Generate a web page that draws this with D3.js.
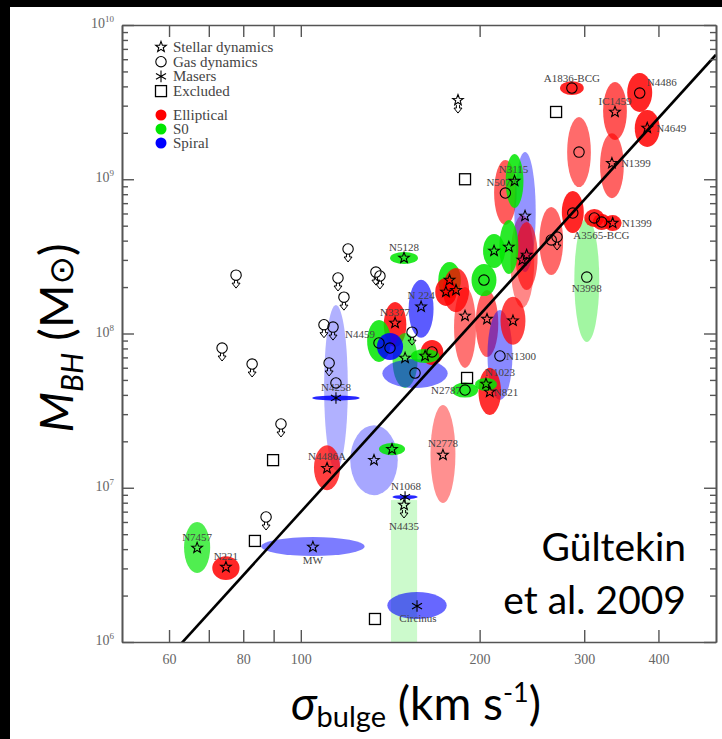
<!DOCTYPE html>
<html>
<head>
<meta charset="utf-8">
<script src="https://cdn.jsdelivr.net/npm/d3@7"></script>
<style>
  body { margin: 0; background: #000; }
  svg { display: block; }
</style>
</head>
<body>
<svg id="chart" width="722" height="739"></svg>
<script>
// ---- data -----------------------------------------------------------------
// Axis domains (velocity dispersion in km/s, black-hole mass in solar masses)
const sigmaDomain = [50, 500];
const massDomain = [1e6, 1e10];

// Fitted M-sigma relation: log M = a + b log(sigma / 200 km/s)
const fitA = 8.12;
const fitB = 4.24;

// Measured black holes:
// name, morphology (E / S0 / S), method (star / gas / maser),
// sigma, M_BH, sigma error (dex), mass error below (dex, null = upper limit), mass error above (dex)
const galaxies = [
  ["", "S", "gas", 114.6, 4.78e7, 0.020, 0.564, 0.506],
  ["", "E", "gas", 294, 1.50e9, 0.020, 0.227, 0.227],
  ["", "E", "gas", 264, 4.04e8, 0.020, 0.227, 0.214],
  ["", "E", "star", 236, 3.00e8, 0.020, 0.311, 0.292],
  ["N1399", "E", "star", 334, 1.27e9, 0.020, 0.227, 0.194],
  ["IC1459", "E", "star", 338, 2.73e9, 0.020, 0.182, 0.194],
  ["N2778", "E", "star", 173.5, 1.63e7, 0.021, 0.311, 0.324],
  ["", "E", "star", 189, 1.30e8, 0.0185, 0.337, 0.188],
  ["", "E", "star", 205.8, 1.24e8, 0.019, 0.246, 0.188],
  ["N5077", "E", "gas", 221, 8.14e8, 0.019, 0.207, 0.214],
  ["N3998", "S0", "gas", 303, 2.32e8, 0.021, 0.421, 0.383],
  ["N1300", "S", "gas", 216.4, 7.15e7, 0.021, 0.285, 0.298],
  ["", "S", "star", 238.5, 5.78e8, 0.018, 0.363, 0.415],
  ["", "S", "star", 132.8, 1.51e7, 0.040, 0.227, 0.227],
  ["N4435", "S0", "star", 149.2, 7.73e6, 0.022, null, 0.032],
  ["", "E", "gas", 287, 6.04e8, 0.0185, 0.130, 0.143],
  ["", "E", "star", 227.6, 1.21e8, 0.021, 0.156, 0.156],
  ["", "E", "star", 240, 3.23e8, 0.0185, 0.227, 0.214],
  ["N3115", "S0", "star", 229, 9.74e8, 0.015, 0.175, 0.175],
  ["", "S0", "star", 224, 3.64e8, 0.016, 0.175, 0.175],
  ["", "S0", "star", 211.5, 3.43e8, 0.0185, 0.110, 0.110],
  ["", "S0", "gas", 203.4, 2.22e8, 0.021, 0.104, 0.104],
  ["", "S0", "star", 178, 2.22e8, 0.019, 0.117, 0.117],
  ["", "E", "star", 182.5, 1.91e8, 0.022, 0.143, 0.143],
  ["", "E", "star", 175.5, 1.86e8, 0.018, 0.091, 0.091],
  ["N821", "E", "star", 208, 4.18e7, 0.019, 0.149, 0.156],
  ["N2787", "S0", "gas", 189, 4.30e7, 0.022, 0.049, 0.049],
  ["N1023", "S0", "star", 205, 4.71e7, 0.0185, 0.045, 0.039],
  ["N4486", "E", "gas", 372, 3.62e9, 0.021, 0.123, 0.130],
  ["N4649", "E", "star", 383, 2.15e9, 0.021, 0.123, 0.117],
  ["A1836-BCG", "E", "gas", 286, 3.9e9, 0.020, 0.045, 0.045],
  ["A3565-BCG", "E", "gas", 312, 5.61e8, 0.017, 0.058, 0.058],
  ["", "E", "gas", 321, 5.28e8, 0.015, 0.052, 0.052],
  ["N1399", "E", "star", 335, 5.20e8, 0.015, 0.052, 0.052],
  ["N5128", "S0", "star", 149.2, 3.09e8, 0.0236, 0.039, 0.039],
  ["N224", "S", "star", 159.4, 1.49e8, 0.021, 0.201, 0.175],
  ["N3377", "E", "star", 144.1, 1.17e8, 0.019, 0.156, 0.136],
  ["N4459", "S0", "gas", 135.4, 8.68e7, 0.020, 0.123, 0.149],
  ["", "S0", "star", 149.8, 6.94e7, 0.021, 0.194, 0.162],
  ["", "S", "gas", 155.7, 5.54e7, 0.055, 0.097, 0.091],
  ["", "S", "gas", 141.3, 8.05e7, 0.022, 0.078, 0.097],
  ["", "E", "gas", 166.3, 7.59e7, 0.019, 0.084, 0.078],
  ["", "S0", "star", 161.9, 7.15e7, 0.024, 0.045, 0.045],
  ["", "S0", "star", 142.4, 1.78e7, 0.022, 0.039, 0.039],
  ["N4486A", "E", "star", 110.7, 1.34e7, 0.022, 0.143, 0.149],
  ["N4258", "S", "maser", 114.6, 3.82e7, 0.040, 0.016, 0.016],
  ["N1068", "S", "maser", 149.8, 8.71e6, 0.021, 0.013, 0.013],
  ["Circinus", "S", "maser", 156.9, 1.71e6, 0.050, 0.084, 0.091],
  ["MW", "S", "star", 104.8, 4.13e6, 0.087, 0.058, 0.065],
  ["N7457", "S0", "star", 66.9, 4.07e6, 0.022, 0.162, 0.169],
  ["N221", "E", "star", 74.8, 3.06e6, 0.023, 0.084, 0.071]
];

// Upper limits without a measured mass: method, sigma, M_BH limit
const upperLimits = [
  ["gas", 77.8, 2.39e8], ["gas", 73.7, 8.05e7], ["gas", 82.8, 6.34e7],
  ["gas", 92.6, 2.59e7], ["gas", 87.4, 6.46e6], ["gas", 109.4, 1.14e8],
  ["gas", 113.3, 1.10e8], ["gas", 115.5, 2.29e8], ["gas", 118.2, 1.72e8],
  ["gas", 120.1, 3.53e8], ["gas", 133.8, 2.50e8], ["gas", 135.9, 2.36e8],
  ["gas", 111.6, 6.44e7], ["gas", 153.9, 1.02e8], ["gas", 270, 4.22e8],
  ["star", 183.9, 3.26e9]
];

// Objects left out of the fit: sigma, M_BH
const excluded = [
  [269, 2.73e9], [189, 1.00e9], [190.5, 5.15e7],
  [89.8, 1.51e7], [83.7, 4.52e6], [133.3, 1.41e6]
];

// Axis ticks
const xTicks = [60, 70, 80, 90, 100, 200, 300, 400];
const xTickLabels = [60, 80, 100, 200, 300, 400];
const yMajor = [1e6, 1e7, 1e8, 1e9, 1e10];

const methodNames = [["star", "Stellar dynamics"], ["gas", "Gas dynamics"], ["maser", "Masers"], ["excluded", "Excluded"]];
const morphNames = [["E", "Elliptical"], ["S0", "S0"], ["S", "Spiral"]];

// ---- drawing ------------------------------------------------------------------
const colors = { E: "#ff0000", S0: "#00e600", S: "#0000ff" };
const serif = "'Liberation Serif', 'Times New Roman', serif";
const sans = "Lato, 'Open Sans', sans-serif";
const axisGray = "#555";

// label offsets relative to the marker: dx, dy, anchor
const labelPlace = {
  "A1836-BCG": [0, -6, "middle"], "N4486": [7, -7, "start"], "IC1459": [0, -7, "middle"],
  "N4649": [9, 4, "start"], "N1399": [9, 4, "start"], "A3565-BCG": [7, 21, "middle"],
  "N3998": [0, 15, "middle"], "N3115": [-1, -8, "middle"], "N5077": [-4, -7, "middle"],
  "N5128": [0, -7, "middle"], "N224": [0, -8, "middle"], "N3377": [0, -7, "middle"],
  "N4459": [-4, -5, "end"],
  "N1300": [6, 4, "start"], "N1023": [14, -8, "middle"], "N821": [4, 4, "start"],
  "N2787": [-4, 4, "end"], "N2778": [0, -8, "middle"], "N4486A": [0, -8, "middle"],
  "N1068": [1, -7, "middle"], "N4435": [0, 25, "middle"], "Circinus": [1, 16, "middle"],
  "MW": [0, 17, "middle"], "N7457": [0, -7, "middle"], "N221": [0, -7, "middle"],
  "N4258": [0, -7, "middle"]
};
const labelText = { "N224": "N 224" };

const svg = d3.select("#chart");
svg.append("rect").attr("width", 722).attr("height", 739).attr("fill", "#000");
svg.append("rect").attr("x", 10).attr("y", 7).attr("width", 712).attr("height", 732).attr("fill", "#fff");

const x = d3.scaleLog().domain(sigmaDomain).range([122, 716]);
const y = d3.scaleLog().domain(massDomain).range([642, 25]);

svg.append("defs").append("clipPath").attr("id", "plotArea")
  .append("rect").attr("x", 122).attr("y", 25).attr("width", 594).attr("height", 617);

const plot = svg.append("g").attr("clip-path", "url(#plotArea)");

// error ellipses, shaded more faintly the larger their area in log space
function shade(es, lo, hi) {
  if (lo === null) return 0.2;
  const area = es * (lo + hi) / 2;
  return Math.max(0.18, Math.min(0.85, Math.pow(0.0022 / area, 0.75)));
}
galaxies.forEach(([name, morph, method, s, m, es, elo, ehi]) => {
  const xl = x(s / 10 ** es), xr = x(s * 10 ** es);
  const yt = y(m * 10 ** ehi);
  if (elo === null) {
    plot.append("rect")
      .attr("x", xl).attr("y", yt).attr("width", xr - xl).attr("height", y(massDomain[0]) - yt)
      .attr("fill", colors[morph]).attr("fill-opacity", shade(es, elo, ehi));
  } else {
    const yb = y(m / 10 ** elo);
    plot.append("ellipse")
      .attr("cx", (xl + xr) / 2).attr("cy", (yt + yb) / 2)
      .attr("rx", (xr - xl) / 2).attr("ry", (yb - yt) / 2)
      .attr("fill", colors[morph]).attr("fill-opacity", shade(es, elo, ehi));
  }
});

// fitted relation
const fitMass = s => 10 ** (fitA + fitB * Math.log10(s / 200));
plot.append("line")
  .attr("x1", x(sigmaDomain[0])).attr("y1", y(fitMass(sigmaDomain[0])))
  .attr("x2", x(sigmaDomain[1])).attr("y2", y(fitMass(sigmaDomain[1])))
  .attr("stroke", "#000").attr("stroke-width", 2.6);

// marker shapes
function starPath(cx, cy, R) {
  const r = R * 0.42;
  let d = "";
  for (let i = 0; i < 10; i++) {
    const a = -Math.PI / 2 + i * Math.PI / 5;
    const rr = i % 2 ? r : R;
    d += (i ? "L" : "M") + (cx + rr * Math.cos(a)).toFixed(2) + "," + (cy + rr * Math.sin(a)).toFixed(2);
  }
  return d + "Z";
}
function asteriskPath(cx, cy, R) {
  let d = "";
  [90, 30, 150].forEach(deg => {
    const a = deg * Math.PI / 180;
    d += `M${cx - R * Math.cos(a)},${cy - R * Math.sin(a)}L${cx + R * Math.cos(a)},${cy + R * Math.sin(a)}`;
  });
  return d;
}
function arrowPath(cx, cy) {
  return `M${cx - 1.6},${cy + 5}V${cy + 8}H${cx - 4}L${cx},${cy + 13}L${cx + 4},${cy + 8}H${cx + 1.6}V${cy + 5}`;
}
function marker(g, method, cx, cy) {
  let el;
  if (method === "star") el = g.append("path").attr("d", starPath(cx, cy, 5.6));
  else if (method === "gas") el = g.append("circle").attr("cx", cx).attr("cy", cy).attr("r", 5.2);
  else if (method === "maser") el = g.append("path").attr("d", asteriskPath(cx, cy, 5.8));
  else el = g.append("rect").attr("x", cx - 5.5).attr("y", cy - 5.5).attr("width", 11).attr("height", 11);
  el.attr("fill", "none").attr("stroke", "#000").attr("stroke-width", method === "excluded" ? 1.3 : 1.1);
}
function limitArrow(g, cx, cy) {
  g.append("path").attr("d", arrowPath(cx, cy))
    .attr("fill", "none").attr("stroke", "#000").attr("stroke-width", 1);
}

const labels = svg.append("g").attr("font-family", serif).attr("font-size", 11).attr("fill", "#444");
galaxies.forEach(([name, morph, method, s, m]) => {
  if (!name || !labelPlace[name]) return;
  const [dx, dy, anchor] = labelPlace[name];
  labels.append("text").attr("x", x(s) + dx).attr("y", y(m) + dy)
    .attr("text-anchor", anchor).text(labelText[name] || name);
});

const marks = svg.append("g");
galaxies.forEach(([name, morph, method, s, m, es, elo]) => {
  marker(marks, method, x(s), y(m));
  if (elo === null) limitArrow(marks, x(s), y(m));
});
upperLimits.forEach(([method, s, m]) => {
  marker(marks, method, x(s), y(m));
  limitArrow(marks, x(s), y(m));
});
excluded.forEach(([s, m]) => marker(marks, "excluded", x(s), y(m)));

// ---- axes -------------------------------------------------------------------
function styleAxis(g) {
  g.select(".domain").attr("stroke", axisGray).attr("stroke-width", 1.6);
  g.selectAll(".tick line").attr("stroke", axisGray).attr("stroke-width", 1.4);
  g.selectAll(".tick text").attr("fill", "#666").attr("font-family", serif).attr("font-size", 14);
}
const yMinor = [];
for (let e = 6; e < 10; e++) for (let k = 2; k <= 9; k++) yMinor.push(k * 10 ** e);

svg.append("g").attr("transform", "translate(0,642)")
  .call(d3.axisBottom(x).tickValues(xTicks)
    .tickFormat(d => xTickLabels.includes(d) ? d : "")
    .tickSize(-12).tickSizeOuter(0).tickPadding(12))
  .call(styleAxis);
svg.append("g").attr("transform", "translate(0,25)")
  .call(d3.axisTop(x).tickValues(xTicks).tickFormat("").tickSize(-12).tickSizeOuter(0))
  .call(styleAxis);

[[122, d3.axisLeft], [716, d3.axisRight]].forEach(([px, axisFn]) => {
  svg.append("g").attr("transform", `translate(${px},0)`)
    .call(axisFn(y).tickValues(yMinor).tickFormat("").tickSize(-6).tickSizeOuter(0))
    .call(styleAxis);
  svg.append("g").attr("transform", `translate(${px},0)`)
    .call(axisFn(y).tickValues(yMajor).tickFormat("").tickSize(-12).tickSizeOuter(0))
    .call(styleAxis);
});

// powers of ten on the mass axis
const yLab = svg.append("g").attr("font-family", serif).attr("fill", "#666");
yMajor.forEach(v => {
  const t = yLab.append("text").attr("x", 114).attr("y", y(v) + 3).attr("text-anchor", "end").attr("font-size", 14);
  t.append("tspan").text("10");
  t.append("tspan").attr("font-size", 9).attr("dy", -6).text(Math.round(Math.log10(v)));
});

// ---- legend -----------------------------------------------------------------
const legend = svg.append("g").attr("font-family", serif).attr("font-size", 15).attr("fill", "#444");
methodNames.forEach(([method, text], i) => {
  const cy = 47 + i * 14.7;
  marker(legend, method, 161, cy);
  legend.append("text").attr("x", 173).attr("y", cy + 5).text(text);
});
morphNames.forEach(([morph, text], i) => {
  const cy = 115 + i * 14;
  legend.append("circle").attr("cx", 161).attr("cy", cy).attr("r", 5.5).attr("fill", colors[morph]);
  legend.append("text").attr("x", 173).attr("y", cy + 5).text(text);
});

// ---- titles -------------------------------------------------------------------
const yTitle = svg.append("text").attr("font-family", sans).attr("font-size", 47).attr("fill", "#000")
  .attr("text-anchor", "middle").attr("transform", "translate(73,338) rotate(-90)");
yTitle.append("tspan").attr("font-style", "italic").text("M");
yTitle.append("tspan").attr("font-style", "italic").attr("font-size", 30).attr("dy", 10).text("BH");
yTitle.append("tspan").attr("dy", -10).text(" (M");
yTitle.append("tspan").attr("font-family", "'DejaVu Sans'").attr("font-size", 34).text("\u2299");
yTitle.append("tspan").text(")");

const xTitle = svg.append("text").attr("font-family", sans).attr("font-size", 46).attr("fill", "#000")
  .attr("text-anchor", "middle").attr("x", 416).attr("y", 720);
xTitle.append("tspan").attr("font-style", "italic").text("\u03c3");
xTitle.append("tspan").attr("font-size", 29).attr("dy", 7).text("bulge");
xTitle.append("tspan").attr("dy", -7).text(" (km s");
xTitle.append("tspan").attr("font-size", 27).attr("dy", -18).text("-1");
xTitle.append("tspan").attr("dy", 18).text(")");

const cite = svg.append("g").attr("font-family", sans).attr("font-size", 39).attr("fill", "#000").attr("text-anchor", "end");
cite.append("text").attr("x", 686).attr("y", 561).text("G\u00fcltekin");
cite.append("text").attr("x", 686).attr("y", 614).text("et al. 2009");
</script>
</body>
</html>
